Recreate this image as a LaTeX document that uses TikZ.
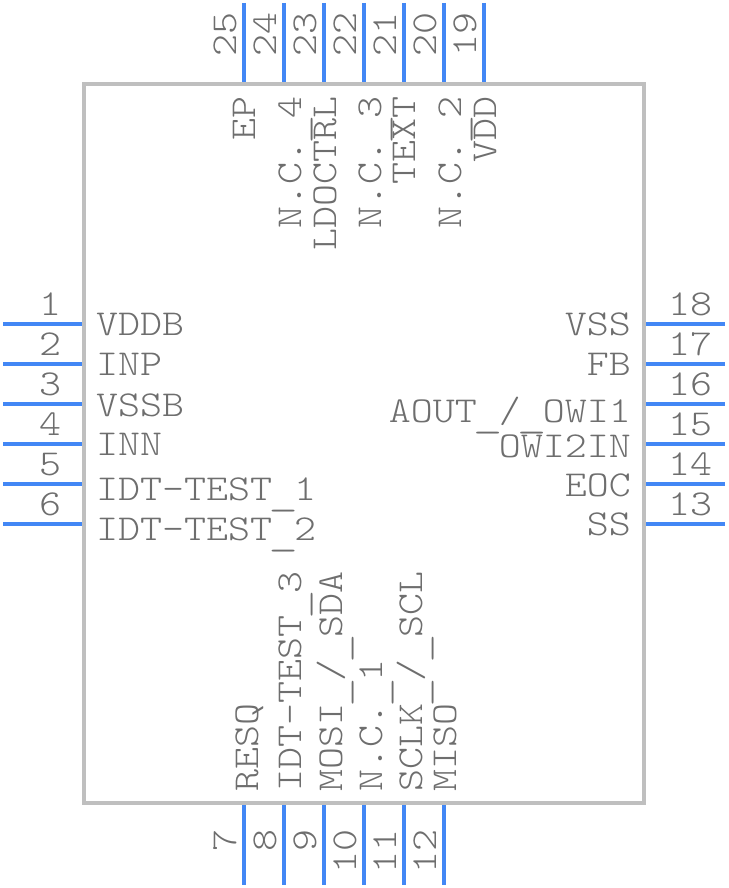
\documentclass[tikz,border=0pt]{standalone}
\usepackage{graphicx}
\usepackage{fontspec}
\setmonofont[FakeStretch=1.148]{Latin Modern Mono Light}
\definecolor{bodygray}{HTML}{BFBFBF}
\definecolor{pinblue}{HTML}{4287F5}
\definecolor{textgray}{HTML}{6E6E6E}
\newcommand{\lowbar}{\makebox[22pt][c]{\raisebox{-5pt}{\scalebox{1.35}[1]{\_}}}}
\tikzset{
  pinline/.style={color=pinblue,line width=4pt},
  chiptext/.style={color=textgray,inner sep=0pt,font=\ttfamily\fontsize{36.5}{36.5}\selectfont},
}
\begin{document}
\begin{tikzpicture}[x=1pt,y=-1pt]
  \useasboundingbox (0,0) rectangle (728,888);
  \draw[color=bodygray,line width=4pt] (84,84) rectangle (644,803);
  % left side
  \foreach \n/\y in {1/324, 2/364, 3/404, 4/444, 5/484, 6/524} {
    \coordinate (pin\n a) at (3,\y);
    \coordinate (pin\n b) at (82,\y);
    \draw[pinline] (pin\n a) -- (pin\n b);
    \node[chiptext,anchor=base] (num\n) at (50,\y-9) {\n};
  }
  % right side
  \foreach \n/\y in {18/324, 17/364, 16/404, 15/444, 14/484, 13/524} {
    \coordinate (pin\n a) at (646,\y);
    \coordinate (pin\n b) at (725,\y);
    \draw[pinline] (pin\n a) -- (pin\n b);
    \node[chiptext,anchor=base] (num\n) at (690,\y-9) {\n};
  }
  % top side
  \foreach \n/\x in {25/244, 24/284, 23/324, 22/364, 21/404, 20/444, 19/484} {
    \coordinate (pin\n a) at (\x,3);
    \coordinate (pin\n b) at (\x,82);
    \draw[pinline] (pin\n a) -- (pin\n b);
    \node[chiptext,rotate=90,anchor=base west] (num\n) at (\x-8,57) {\n};
  }
  % bottom side
  \foreach \n/\x in {7/244, 8/284, 9/324, 10/364, 11/404, 12/444} {
    \coordinate (pin\n a) at (\x,805);
    \coordinate (pin\n b) at (\x,885);
    \draw[pinline] (pin\n a) -- (pin\n b);
    \node[chiptext,rotate=90,anchor=base east] (num\n) at (\x-8,829) {\n};
  }
  % labels
  \foreach \name/\txt/\y in {vddb/VDDB/335, inp/INP/375, vssb/VSSB/416, inn/INN/455,
      testa/IDT-TEST\lowbar 1/500, testb/IDT-TEST\lowbar 2/540}
    \node[chiptext,anchor=base west] (\name) at (96,\y) {\txt};
  \foreach \name/\txt/\y in {vss/VSS/335, fb/FB/375, aout/{AOUT\lowbar/\lowbar OWI1}/422,
      owi/OWI2IN/457, eoc/EOC/496, ss/SS/535}
    \node[chiptext,anchor=base east] (\name) at (631,\y) {\txt};
  \foreach \name/\txt/\x in {ep/EP/255, nca/N.C.\lowbar 4/301, ldo/LDOCTRL/336, ncb/N.C.\lowbar 3/381,
      text/TEXT/415, ncc/N.C.\lowbar 2/461, vdd/VDD/496}
    \node[chiptext,rotate=90,anchor=base east] (\name) at (\x,96) {\txt};
  \foreach \name/\txt/\x in {resq/RESQ/258, testc/IDT-TEST\lowbar 3/301, mosi/{MOSI\lowbar/\lowbar SDA}/342,
      ncd/N.C.\lowbar 1/382, sclk/{SCLK\lowbar/\lowbar SCL}/422, miso/MISO/456}
    \node[chiptext,rotate=90,anchor=base west] (\name) at (\x,792) {\txt};
\end{tikzpicture}
\end{document}
